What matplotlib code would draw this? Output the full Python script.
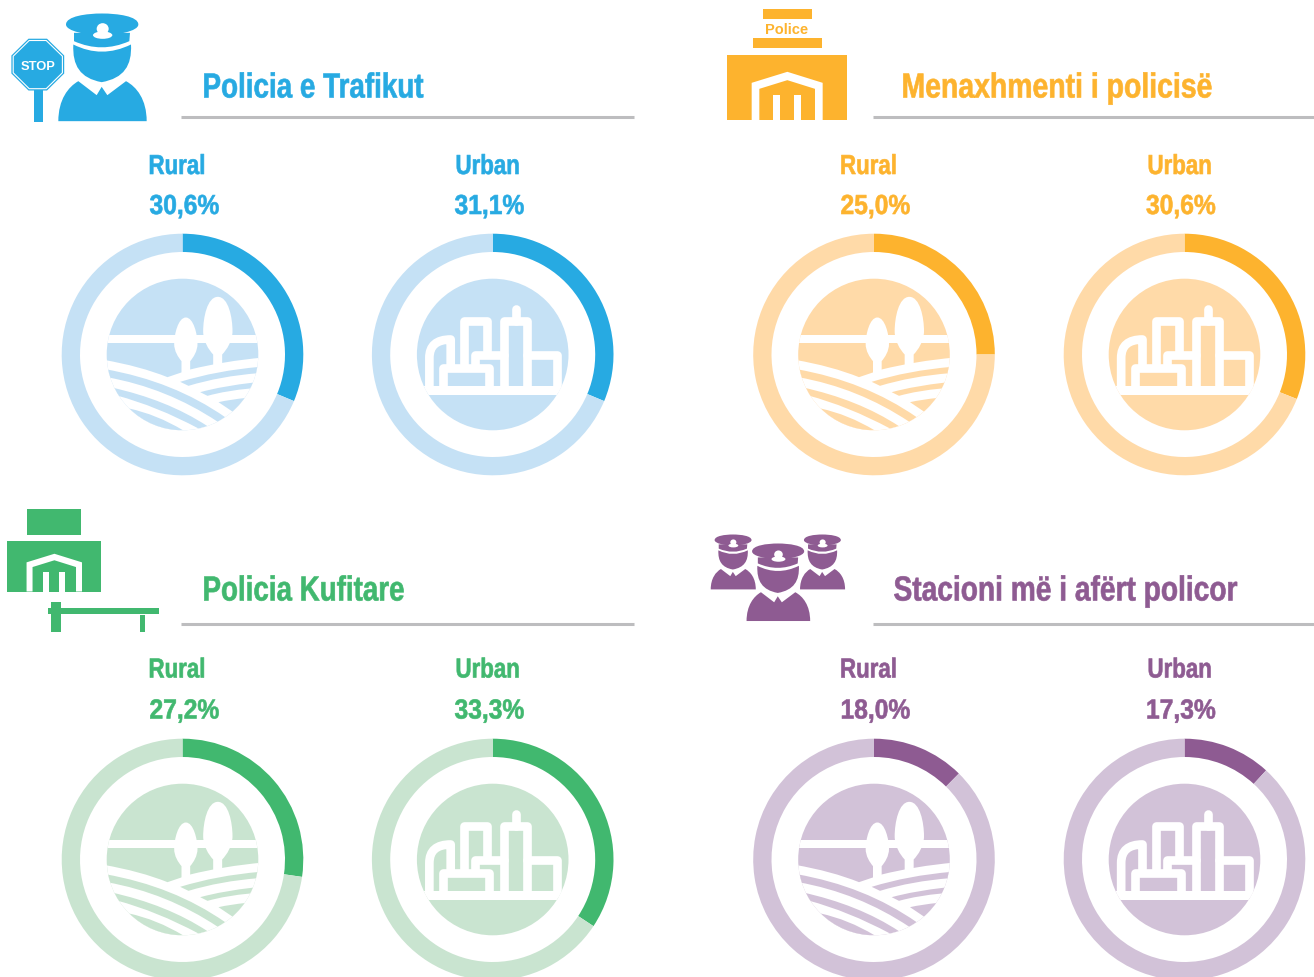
import matplotlib
matplotlib.use("Agg")
import matplotlib.pyplot as plt
from matplotlib.patches import Circle, Ellipse, PathPatch, Polygon, Rectangle, FancyBboxPatch
from matplotlib.path import Path
from matplotlib.patheffects import AbstractPathEffect
from matplotlib.transforms import Affine2D, Bbox

W, H = 1314, 978
titles = ["Policia e Trafikut", "Menaxhmenti i policisë", "Policia Kufitare", "Stacioni më i afërt policor"]
area_labels = ["Rural", "Urban"]
shown_values = [["30,6%", "31,1%"], ["25,0%", "30,6%"], ["27,2%", "33,3%"], ["18,0%", "17,3%"]]
arc_shares = [[31.3, 31.3], [25.0, 31.0], [27.3, 34.3], [12.4, 11.8]]
strong = ["#27AAE2", "#FDB32E", "#41B86F", "#8E5B92"]
pale = ["#C5E1F5", "#FFDAA8", "#C9E4D0", "#D2C2D8"]
GREY = "#BDBDBF"

# layout in pixels
OFF = 0.5
col_x = [[182.5, 492.7], [874.0, 1184.5]]
row_y = [355.0, 860.0]
R_OUT, R_IN, R_ICON = 120.8, 102.5, 75.8
FONT = "Liberation Sans"

fig = plt.figure(figsize=(W / 100, H / 100), dpi=100, facecolor="white")


def donut(cx, cy, share, c, p):
    a = fig.add_axes([(cx - R_OUT) / W, 1 - (cy + OFF + R_OUT) / H, 2 * R_OUT / W, 2 * R_OUT / H])
    a.pie([share, 100 - share], colors=[c, p], startangle=90, counterclock=False, radius=1,
          wedgeprops=dict(width=(R_OUT - R_IN) / R_OUT, linewidth=0), normalize=True)
    a.set_xlim(-1, 1); a.set_ylim(-1, 1); a.set_aspect("equal"); a.axis("off")


for i in range(4):
    for j in range(2):
        donut(col_x[i % 2][j], row_y[i // 2], arc_shares[i][j], strong[i], pale[i])

ax = fig.add_axes([0, 0, 1, 1], zorder=5)
ax.set_xlim(0, W); ax.set_ylim(H - OFF, -OFF); ax.axis("off"); ax.patch.set_alpha(0)

M, L, Q, C, Z = Path.MOVETO, Path.LINETO, Path.CURVE3, Path.CURVE4, Path.CLOSEPOLY


def rural_icon(cx, cy, c):
    tr = Affine2D().translate(-397, -390).scale(1 / 3).translate(cx, cy) + ax.transData
    disc = Circle((cx, cy), R_ICON, fc=c, ec="none")
    ax.add_patch(disc)

    def w(v, cd, fc="white"):
        p = PathPatch(Path(v, cd), fc=fc, ec="none", lw=0, transform=tr)
        ax.add_patch(p)
        p.set_clip_path(disc)

    w([(150, 330), (650, 330), (650, 356), (150, 356), (150, 330)], [M, L, L, L, Z])
    w([(160, 406), (270, 425), (352, 458), (420, 435), (520, 410), (640, 399), (640, 700), (160, 700), (160, 406)],
      [M, Q, Q, L, Q, Q, L, L, Z])
    w([(165, 434), (370, 470), (525, 578), (503, 592), (350, 490), (170, 458), (165, 434)], [M, Q, Q, L, Q, Q, Z], c)
    w([(180, 488), (350, 525), (472, 605), (445, 612), (320, 545), (200, 513), (180, 488)], [M, Q, Q, L, Q, Q, Z], c)
    w([(237, 552), (320, 570), (398, 617), (300, 625), (237, 552)], [M, Q, Q, Q, Q], c)
    w([(390, 472), (500, 438), (630, 427), (625, 446), (510, 455), (415, 484), (390, 472)], [M, Q, Q, L, Q, Q, Z], c)
    w([(450, 503), (520, 484), (612, 474), (600, 492), (530, 498), (472, 514), (450, 503)], [M, Q, Q, L, Q, Q, Z], c)
    w([(505, 533), (540, 525), (590, 520), (548, 562), (505, 533)], [M, Q, Q, L, Z], c)
    # trees: egg crown tapering into a trunk
    w([(503, 217), (535, 217), (547, 280), (547, 320), (547, 350), (530, 375), (516, 390), (516, 424), (489, 424),
       (489, 390), (475, 375), (459, 350), (459, 320), (459, 280), (471, 217), (503, 217)],
      [M, C, C, C, C, C, C, L, L, L, C, C, C, C, C, C])
    w([(407, 279), (430, 279), (442, 330), (442, 358), (442, 380), (430, 398), (420, 410), (420, 446), (394, 446),
       (394, 410), (384, 398), (372, 380), (372, 358), (372, 330), (384, 279), (407, 279)],
      [M, C, C, C, C, C, C, L, L, L, C, C, C, C, C, C])


def urban_icon(cx, cy, c):
    tr = Affine2D().translate(-383, -390).scale(1 / 3).translate(cx, cy) + ax.transData
    disc = Circle((cx, cy), R_ICON, fc=c, ec="none")
    ax.add_patch(disc)
    sw = 26 / 3 * 0.72
    strokes = [
        ([(193, 490), (193, 400), (193, 345), (257, 345), (257, 425)], [M, L, Q, Q, L]),
        ([(296, 425), (296, 290), (365, 290), (365, 385)], [M, L, L, L]),
        ([(331, 425), (331, 392), (418, 392)], [M, L, L]),
        ([(418, 490), (418, 290), (485, 290), (485, 490)], [M, L, L, L]),
        ([(452, 290), (452, 252)], [M, L]),
        ([(485, 392), (577, 392), (577, 490)], [M, L, L]),
        ([(235, 490), (235, 430), (372, 430), (372, 490)], [M, L, L, L]),
    ]
    for v, cd in strokes:
        p = PathPatch(Path(v, cd), fc="none", ec="white", lw=sw, capstyle="round", joinstyle="round", transform=tr)
        ax.add_patch(p)
        p.set_clip_path(disc)
    p = Rectangle((100, 483), 600, 27, fc="white", ec="none", transform=tr)
    ax.add_patch(p)
    p.set_clip_path(disc)


for i in range(4):
    ux, ry = col_x[i % 2], row_y[i // 2]
    rural_icon(ux[0], ry, pale[i])
    urban_icon(ux[1], ry, pale[i])


def person(x, top, s, c, halo=False):
    tr = Affine2D().translate(-306, -42).scale(s / 3).translate(x, top) + ax.transData
    body = Path([(175, 365), (175, 300), (205, 262), (235, 245), (290, 287), (305, 262), (322, 287),
                 (378, 245), (410, 262), (440, 300), (440, 365), (175, 365)],
                [M, C, C, C, L, L, L, L, C, C, C, Z])
    face = Path([(220, 135), (305, 178), (393, 135), (396, 198), (372, 236), (305, 248), (240, 236),
                 (217, 198), (220, 135)], [M, Q, Q, C, C, C, C, C, C])
    band = Path([(222, 100), (390, 100), (388, 125), (305, 162), (222, 125), (222, 100)], [M, L, L, Q, Q, Z])
    cap = Path([(198, 75), (198, 50), (260, 42), (306, 42), (352, 42), (415, 50), (415, 75),
                (415, 95), (352, 107), (306, 107), (260, 107), (198, 95), (198, 75)],
               [M, C, C, C, C, C, C, C, C, C, C, C, C])
    if halo:
        for pth in (body, face, band, cap):
            ax.add_patch(PathPatch(pth, fc="white", ec="white", lw=3.5, transform=tr, zorder=3))
    for pth in (body, face, band, cap):
        ax.add_patch(PathPatch(pth, fc=c, ec="none", lw=0, transform=tr, zorder=3.1))
    ax.add_patch(Ellipse((308, 88), 36, 34, fc="white", ec="none", transform=tr, zorder=3.2))
    ax.add_patch(Ellipse((308, 107), 58, 22, fc="white", ec="none", transform=tr, zorder=3.2))


def house(x0, y0, w, h, c):
    ax.add_patch(Rectangle((x0, y0), w, h, fc=c, ec="none"))
    sx = w / 360.0
    sy = h / 196.0
    outer = [(74, 84), (181, 51), (287, 84), (287, 196), (264, 196), (264, 102), (181, 76), (97, 102), (97, 196), (74, 196)]
    ax.add_patch(Polygon([(x0 + a * sx, y0 + b * sy) for a, b in outer], closed=True, fc="white", ec="none"))
    for v in (137, 200):
        ax.add_patch(Rectangle((x0 + v * sx, y0 + 120 * sy), 23 * sx, 76 * sy, fc="white", ec="none"))


# traffic police header icon
person(102, 14, 1.0, strong[0])
ax.add_patch(Rectangle((34, 90), 9.3, 32, fc=strong[0], ec="none"))
sign = [(28.5, 39.2), (47, 39.2), (64.2, 56), (64.2, 74), (47, 91), (28.5, 91), (11.4, 74), (11.4, 56)]
ax.add_patch(Polygon(sign, closed=True, fc=strong[0], ec=strong[0], lw=0))
inner = [(29.2, 41), (46.2, 41), (62.4, 56.7), (62.4, 73.3), (46.2, 89.2), (29.2, 89.2), (13.2, 73.3), (13.2, 56.7)]
ax.add_patch(Polygon(inner, closed=True, fc=strong[0], ec="white", lw=0.8))
ax.text(37.8, 65, "STOP", color="white", fontsize=9.3, fontweight="bold", family=FONT, ha="center", va="center_baseline")

# police management header icon
ax.add_patch(Rectangle((763, 9), 49, 10, fc=strong[1], ec="none"))
ax.add_patch(Rectangle((753, 38), 69, 10, fc=strong[1], ec="none"))
house(727, 55.3, 120, 65.4, strong[1])
ax.text(787, 29.5, "Police", color=strong[1], fontsize=10.5, fontweight="bold", family=FONT, ha="center", va="center")

# border police header icon
ax.add_patch(Rectangle((27, 509), 54, 26, fc=strong[2], ec="none"))
house(7.3, 541, 93.7, 51, strong[2])
ax.add_patch(Rectangle((48, 608), 111, 6, fc=strong[2], ec="none"))
ax.add_patch(Rectangle((51, 602), 10, 30, fc=strong[2], ec="none"))
ax.add_patch(Rectangle((140, 615), 5, 17, fc=strong[2], ec="none"))

# nearest station header icon
person(733, 535, 0.51, strong[3])
person(822.3, 535, 0.51, strong[3])
person(778, 544, 0.72, strong[3], halo=True)


class Squeeze(AbstractPathEffect):
    """Narrow and slightly embolden the glyph outlines about the text origin (no condensed face is installed)."""

    def __init__(self, sx, edge):
        super().__init__()
        self.sx = sx
        self.edge = edge

    def draw_path(self, renderer, gc, tpath, affine, rgbFace=None):
        gc0 = renderer.new_gc()
        gc0.copy_properties(gc)
        gc0.set_linewidth(self.edge)
        gc0.set_foreground(rgbFace)
        renderer.draw_path(gc0, tpath, Affine2D().scale(self.sx, 1) + affine, rgbFace)
        gc0.restore()


renderer = fig.canvas.get_renderer()


def narrow_text(x, y, s, color, size, target=None, sx=None, edge=0.45):
    t = ax.text(x, y, s, color=color, fontsize=size, fontweight="bold", family=FONT, ha="left", va="baseline")
    orig = t.get_window_extent
    full = orig(renderer).width
    k = sx if sx is not None else target / full
    t.set_path_effects([Squeeze(k, edge)])

    def extent(r=None, dpi=None):
        bb = orig(r if r is not None else renderer, dpi)
        return Bbox.from_extents(bb.x0, bb.y0, bb.x0 + bb.width * k, bb.y1)

    t.get_window_extent = extent
    return t


# texts and rules
title_x = [202.5, 901.5, 202.5, 893.5]
title_w = [221, 311, 202, 344]
rule_x = [(181, 634), (873, 1314)]
rule_y = [117, 624.5]
title_base = [98, 601]
lab_x = [[148.5, 455.5], [840, 1147.5]]
val_x = [[149.5, 454.5], [840.5, 1146]]
lab_base = [174.5, 678]
val_base = [214.5, 719]
for i in range(4):
    r, col = i // 2, i % 2
    narrow_text(title_x[i], title_base[r], titles[i], strong[i], 25, target=title_w[i])
    ax.plot(rule_x[col], [rule_y[r]] * 2, color=GREY, lw=2.2, solid_capstyle="butt")
    for j in range(2):
        narrow_text(lab_x[col][j], lab_base[r], area_labels[j], strong[i], 19.8, sx=0.81)
        narrow_text(val_x[col][j], val_base[r], shown_values[i][j], strong[i], 19.8, sx=0.895)

fig.savefig("out.png", dpi=100, facecolor="white")
